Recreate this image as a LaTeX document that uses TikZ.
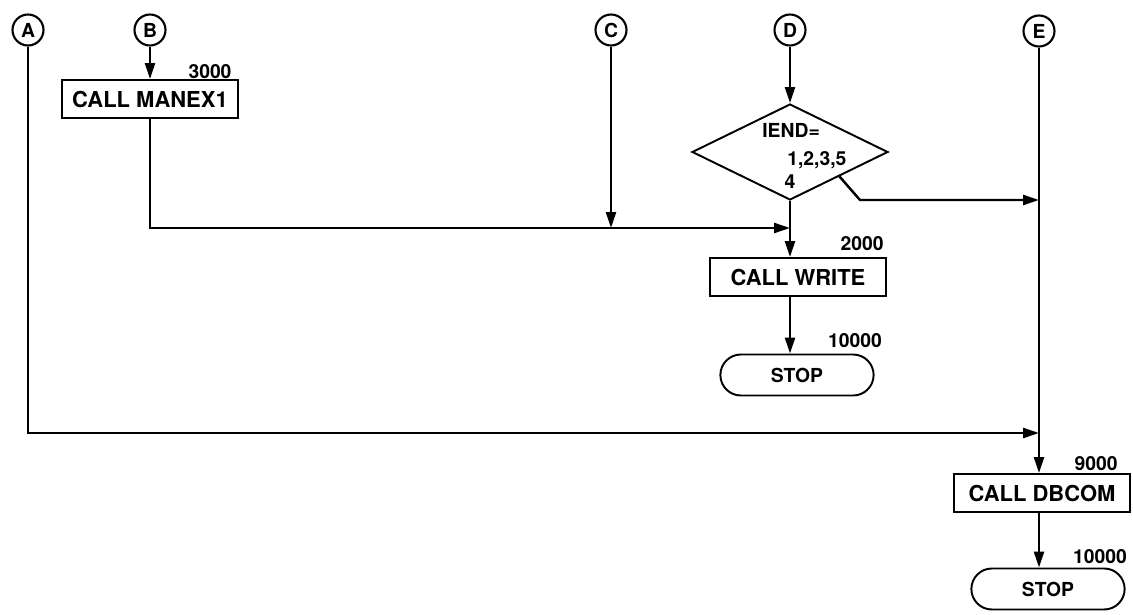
\documentclass[tikz,border=0pt]{standalone}
\usepackage{fontspec}
\setmainfont{TeX Gyre Heros}
\usepackage{tikz}
\usetikzlibrary{arrows.meta, shapes.geometric, shapes.misc}

\begin{document}
\begin{tikzpicture}[x=0.02cm, y=-0.02cm,
    every node/.style={font=\bfseries\fontsize{11}{13}\selectfont},
    conn/.style={circle, draw, line width=1.2pt, minimum size=0.62cm, inner sep=0pt},
    proc/.style={draw, line width=1.1pt, minimum width=3.52cm, minimum height=0.76cm, inner sep=2pt,
      font=\bfseries\fontsize{12.5}{14}\selectfont},
    term/.style={draw, line width=1.1pt, rounded rectangle, minimum width=3.3cm, minimum height=0.82cm},
    lbl/.style={inner sep=0pt},
    flow/.style={line width=1.4pt},
    arr/.style={flow, -{Triangle[length=0.32cm, width=0.2cm]}}]
  \useasboundingbox (0,0) rectangle (1133,615);
  % connectors
  \node[conn] (A) at (28,30) {A};
  \node[conn] (B) at (150,30) {B};
  \node[conn] (C) at (611,30) {C};
  \node[conn] (D) at (790,30) {D};
  \node[conn] (E) at (1039,31) {E};
  % boxes
  \node[proc] (manex) at (150,99) {CALL MANEX1};
  \node[lbl] (l3000) at (210,72) {3000};
  \node[diamond, draw, line width=1.1pt, inner sep=0pt, minimum width=3.92cm, minimum height=1.92cm] (iend) at (790,152) {};
  \node[lbl, anchor=west] (t1) at (762,130) {IEND=};
  \node[lbl, anchor=west] (t2) at (787,160) {1,2,3,5};
  \node[lbl] (t3) at (790,182) {4};
  \node[proc] (write) at (798,277) {CALL WRITE};
  \node[lbl] (l2000) at (862,244) {2000};
  \node[term] (stop1) at (797,375) {STOP};
  \node[lbl] (l10000a) at (855,341) {10000};
  \node[proc] (dbcom) at (1042,493) {CALL DBCOM};
  \node[lbl] (l9000) at (1096,464) {9000};
  \node[term] (stop2) at (1048,589) {STOP};
  \node[lbl] (l10000b) at (1100,557) {10000};
  % junctions
  \coordinate (jC) at (611,228);
  \coordinate (jD) at (790,228);
  \coordinate (jE) at (1039,200);
  \coordinate (jA) at (1039,433);
  % flow lines
  \draw[arr] (B) -- (manex);
  \draw[arr] (manex) |- (jD);
  \draw[arr] (C) -- (jC);
  \draw[arr] (D) -- (iend);
  \draw[arr] (iend.south) -- (iend.south |- write.north);
  \draw[arr] (iend.south east) -- (860,200) -- (jE);
  \draw[arr] (write.south -| iend.south) -- (iend.south |- stop1.north);
  \draw[arr] (A) |- (jA);
  \draw[arr] (E) -- (E |- dbcom.north);
  \draw[arr] (dbcom.south -| E) -- (E |- stop2.north);
\end{tikzpicture}
\end{document}
